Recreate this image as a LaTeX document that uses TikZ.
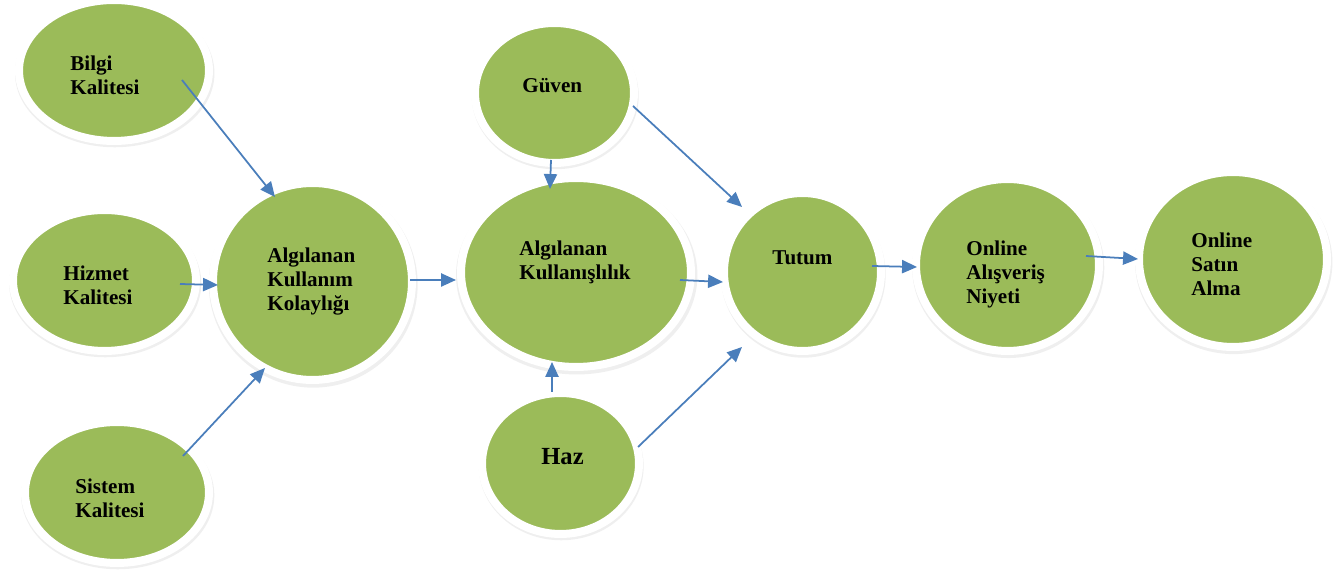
\documentclass[tikz,border=0pt]{standalone}
\usepackage{fontspec}
\setmainfont{Liberation Serif}
\usetikzlibrary{arrows.meta,shapes.geometric,shadows}
\definecolor{leaf}{RGB}{155,187,89}
\definecolor{link}{RGB}{74,126,187}

\begin{document}
\begin{tikzpicture}[x=0.02cm,y=-0.02cm,
  oval/.style={ellipse,fill=leaf,draw=white,line width=0.16cm,inner sep=0pt,
               drop shadow={opacity=0.13,shadow xshift=0.4pt,
                            shadow yshift=-1.5pt,shadow scale=1.05}},
  txt/.style={anchor=base west,align=left,inner sep=0pt,
              font=\fontsize{12}{13.9}\selectfont\bfseries},
  arr/.style={-{Triangle[length=8.5pt,width=7.5pt]},line width=1pt,draw=link}]
\useasboundingbox (0,0) rectangle (1340,573);
% ovals
\node[oval,minimum width=3.8cm,minimum height=2.82cm] (bilgi) at (114,70.5) {};
\node[oval,minimum width=3.66cm,minimum height=2.82cm] (hizmet) at (104.5,280.5) {};
\node[oval,minimum width=3.68cm,minimum height=2.82cm] (sistem) at (117,492.5) {};
\node[oval,minimum width=3.98cm,minimum height=3.94cm] (kolay) at (312.5,281.5) {};
\node[oval,minimum width=3.18cm,minimum height=2.8cm] (guven) at (554.5,93) {};
\node[oval,minimum width=4.6cm,minimum height=3.78cm] (kullan) at (576,272.5) {};
\node[oval,minimum width=3.14cm,minimum height=2.82cm] (haz) at (560.5,463.5) {};
\node[oval,minimum width=3.14cm,minimum height=3.16cm] (tutum) at (802.5,272) {};
\node[oval,minimum width=3.66cm,minimum height=3.44cm] (niyet) at (1007.5,265) {};
\node[oval,minimum width=3.76cm,minimum height=3.5cm] (satin) at (1233,259.5) {};
% labels (anchored on the last line)
\node[txt] (bilgiT) at (70,95) {Bilgi\\Kalitesi};
\node[txt] (hizmetT) at (63,304.5) {Hizmet\\Kalitesi};
\node[txt] (sistemT) at (75,517.5) {Sistem\\Kalitesi};
\node[txt] (kolayT) at (267,311) {Algılanan\\Kullanım\\Kolaylığı};
\node[txt] (guvenT) at (522,93) {Güven};
\node[txt] (kullanT) at (519,279.5) {Algılanan\\Kullanışlılık};
\node[txt,font=\fontsize{14}{16}\selectfont\bfseries] (hazT) at (541,465) {Haz};
\node[txt] (tutumT) at (772,265) {Tutum};
\node[txt] (niyetT) at (966,304) {Online\\Alışveriş\\Niyeti};
\node[txt] (satinT) at (1191,296) {Online\\Satın\\Alma};
% links
\draw[arr] ([shift={(68,9.5)}]bilgi.center) -- ([shift={(-37.5,-84.5)}]kolay.center);
\draw[arr] ([shift={(75.5,3.5)}]hizmet.center) -- ([shift={(-94.5,3.5)}]kolay.center);
\draw[arr] ([shift={(66,-36.5)}]sistem.center) -- ([shift={(-47.5,86.5)}]kolay.center);
\draw[arr] ([shift={(97.5,-1.5)}]kolay.center) -- ([shift={(-120,7.5)}]kullan.center);
\draw[arr] ([shift={(-3.5,67)}]guven.center) -- ([shift={(-26,-83.5)}]kullan.center);
\draw[arr] ([shift={(78.5,13)}]guven.center) -- ([shift={(-60.5,-65)}]tutum.center);
\draw[arr] ([shift={(104,7.5)}]kullan.center) -- ([shift={(-79.5,10)}]tutum.center);
\draw[arr] ([shift={(-8.5,-71.5)}]haz.center) -- ([shift={(-24,89.5)}]kullan.center);
\draw[arr] ([shift={(77.5,-16.5)}]haz.center) -- ([shift={(-60.5,75)}]tutum.center);
\draw[arr] ([shift={(69.5,-6)}]tutum.center) -- ([shift={(-90.5,2)}]niyet.center);
\draw[arr] ([shift={(78.5,-9)}]niyet.center) -- ([shift={(-95,-0.5)}]satin.center);
\end{tikzpicture}
\end{document}
